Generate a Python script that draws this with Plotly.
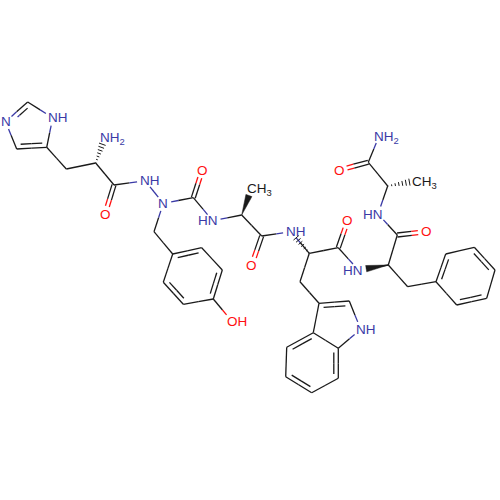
import numpy as np
import plotly.graph_objects as go

# atom positions
atom_x = [5.5, 27.7, 52.7, 46.7, 16.7, 66.3, 95.7, 105, 114, 105, 145, 163.3, 193.3, 202.3, 212.7, 241.7,
          251.7, 261.7, 251.7, 291, 154, 172.7, 201.7, 222.3, 213.3, 183.3, 163.3, 231.7, 309.3, 338.3,
          347.7, 300, 319, 349.3, 360.7, 338.3, 313.3, 286.7, 285.7, 311.7, 338.3, 358.3, 388.3, 397.3,
          426, 378, 387.7, 417.3, 368.3, 339.3, 379.3, 407.7, 436, 445.7, 474.3, 495, 486.7, 456.7]
atom_y = [121.7, 102, 117.7, 147.3, 149, 169, 163, 136.7, 185, 214, 180.7, 203.3, 197.7, 170, 220.7, 215,
          188, 236, 265, 231.7, 231.7, 254, 247.7, 270, 299, 304.3, 282.3, 321, 253.3, 247.7,
          220.7, 281.7, 303.3, 301, 329.3, 348.3, 332.7, 347.3, 376.7, 392.7, 378.3, 270, 265, 235,
          231.7, 214, 186, 180.7, 162.3, 170, 135.7, 286.7, 281.7, 254, 247.3, 270, 298.3, 305]
atom_label = {0: "N", 2: "NH", 7: "NH2", 9: "O", 10: "NH", 11: "N", 13: "O", 14: "HN", 16: "CH3", 18: "O",
              19: "NH", 27: "OH", 30: "O", 34: "NH", 41: "HN", 44: "O", 45: "HN", 47: "CH3", 49: "O", 50: "NH2"}

single_bonds = [(1, 2), (2, 3), (4, 0), (3, 5), (5, 6), (6, 8), (8, 10), (10, 11), (11, 12), (12, 14),
                (14, 15), (15, 17), (17, 19), (19, 28), (11, 20), (20, 21), (22, 23), (24, 25), (26, 21),
                (24, 27), (28, 29), (29, 41), (41, 42), (28, 31), (31, 32), (33, 34), (34, 35), (35, 36),
                (32, 36), (37, 38), (39, 40), (42, 43), (43, 45), (45, 46), (46, 48), (48, 50), (42, 51),
                (51, 52), (53, 54), (55, 56), (57, 52)]
double_bonds = [(0, 1), (3, 4), (8, 9), (12, 13), (17, 18), (21, 22), (23, 24), (25, 26), (29, 30),
                (32, 33), (36, 37), (38, 39), (40, 35), (43, 44), (48, 49), (52, 53), (54, 55), (56, 57)]
wedge_bonds = [(15, 16), (42, 41)]
hash_bonds = [(6, 7), (28, 19), (46, 47)]
rings = [[0, 1, 2, 3, 4], [21, 22, 23, 24, 25, 26], [32, 33, 34, 35, 36], [35, 36, 37, 38, 39, 40],
         [52, 53, 54, 55, 56, 57]]

BLACK = "#1a1a1a"
BLUE = "#3a3aa6"
RED = "#ff1010"
FONT = "Liberation Sans"
FONT_SIZE = 13.5
LABEL_GAP = 8.0


def pos(i):
    return np.array([atom_x[i], atom_y[i]], dtype=float)


def atom_color(i):
    lab = atom_label.get(i, "C")
    if "N" in lab:
        return BLUE
    if "O" in lab:
        return RED
    return BLACK


def trim(p, q, i, j):
    # pull the bond ends back from the labels
    d = (q - p) / np.linalg.norm(q - p)
    a = p + d * LABEL_GAP if i in atom_label else p
    b = q - d * LABEL_GAP if j in atom_label else q
    return a, b


segs = {BLACK: ([], []), BLUE: ([], []), RED: ([], [])}


def add_seg(col, a, b):
    segs[col][0].extend([a[0], b[0], None])
    segs[col][1].extend([a[1], b[1], None])


def add_bond(a, b, mid, ci, cj):
    # half coloured bond, split at the middle of the full bond
    add_seg(ci, a, mid)
    add_seg(cj, mid, b)


for i, j in single_bonds:
    p, q = pos(i), pos(j)
    a, b = trim(p, q, i, j)
    add_bond(a, b, (p + q) / 2, atom_color(i), atom_color(j))

for i, j in double_bonds:
    p, q = pos(i), pos(j)
    d = (q - p) / np.linalg.norm(q - p)
    n = np.array([-d[1], d[0]])
    ring = [r for r in rings if i in r and j in r]
    a, b = trim(p, q, i, j)
    mid = (p + q) / 2
    if ring:
        c = np.mean([pos(k) for k in ring[0]], axis=0)
        side = 1 if np.dot(c - p, n) > 0 else -1
        add_bond(a, b, mid, atom_color(i), atom_color(j))
        s = 0.14 * np.linalg.norm(q - p)
        add_bond(a + d * s + n * side * 4.5, b - d * s + n * side * 4.5, mid + n * side * 4.5,
                 atom_color(i), atom_color(j))
    else:
        for side in (-1, 1):
            add_bond(a + n * side * 2, b + n * side * 2, mid + n * side * 2, atom_color(i), atom_color(j))

fig = go.Figure()
for col, (xs, ys) in segs.items():
    fig.add_trace(go.Scatter(x=xs, y=ys, mode="lines", line=dict(color=col, width=1.3), hoverinfo="skip",
                             showlegend=False))

for i, j in wedge_bonds:
    p, q = pos(i), pos(j)
    a, b = trim(p, q, i, j)
    d = (q - p) / np.linalg.norm(q - p)
    n = np.array([-d[1], d[0]])
    fig.add_trace(go.Scatter(x=[a[0], b[0] + n[0] * 3.2, b[0] - n[0] * 3.2, a[0]],
                             y=[a[1], b[1] + n[1] * 3.2, b[1] - n[1] * 3.2, a[1]],
                             mode="lines", fill="toself", fillcolor=BLACK, line=dict(color=BLACK, width=0.5),
                             hoverinfo="skip", showlegend=False))

hx, hy = [], []
for i, j in hash_bonds:
    p, q = pos(i), pos(j)
    a, b = trim(p, q, i, j)
    d = (q - p) / np.linalg.norm(q - p)
    n = np.array([-d[1], d[0]])
    for t in np.linspace(0.02, 1, 7):
        c = a + (b - a) * t
        w = 0.3 + 3.2 * t
        hx.extend([c[0] + n[0] * w, c[0] - n[0] * w, None])
        hy.extend([c[1] + n[1] * w, c[1] - n[1] * w, None])
fig.add_trace(go.Scatter(x=hx, y=hy, mode="lines", line=dict(color=BLACK, width=1), hoverinfo="skip",
                         showlegend=False))

annotations = []
for i, lab in atom_label.items():
    anchor, shift = "center", 0
    if len(lab) > 1:
        anchor, shift = ("right", 4.9) if lab == "HN" else ("left", -4.9)
    text = lab.replace("2", "<sub>2</sub>").replace("3", "<sub>3</sub>")
    # the subscript makes the text box taller, so those labels sit a bit high
    yshift = -1.5 if "<sub>" in text else 0
    annotations.append(dict(x=atom_x[i], y=atom_y[i], text=text, showarrow=False, xanchor=anchor, xshift=shift,
                            yshift=yshift, yanchor="middle", borderpad=0, borderwidth=0,
                            font=dict(family=FONT, size=FONT_SIZE, color=atom_color(i))))

fig.update_layout(
    width=500, height=500, margin=dict(l=0, r=0, t=0, b=0),
    paper_bgcolor="white", plot_bgcolor="white", showlegend=False,
    xaxis=dict(range=[0, 500], visible=False, fixedrange=True),
    yaxis=dict(range=[500, 0], visible=False, fixedrange=True),
    annotations=annotations,
)
fig.write_html("out.html", config={"displayModeBar": False},
               post_script="document.body.style.margin='0';")
